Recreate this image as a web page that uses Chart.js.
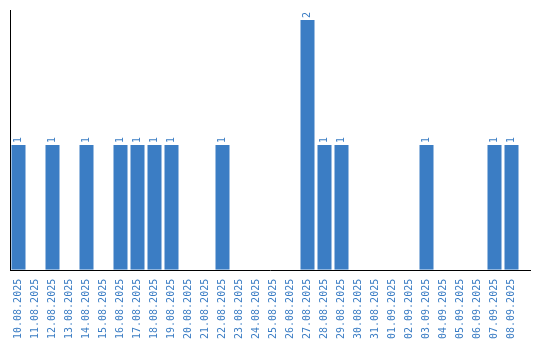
<!DOCTYPE html>
<html lang="en">
<head>
    <meta charset="UTF-8">
    <title>Daily count</title>
    <script src="https://cdn.jsdelivr.net/npm/chart.js"></script>
    <style>
        html, body { margin: 0; padding: 0; background: #fff; }
        #wrap { width: 540px; height: 340px; }
    </style>
</head>
<body>
    <div id="wrap"><canvas id="barChart"></canvas></div>

    <script>
        const dates = [
            '10.08.2025', '11.08.2025', '12.08.2025', '13.08.2025', '14.08.2025',
            '15.08.2025', '16.08.2025', '17.08.2025', '18.08.2025', '19.08.2025',
            '20.08.2025', '21.08.2025', '22.08.2025', '23.08.2025', '24.08.2025',
            '25.08.2025', '26.08.2025', '27.08.2025', '28.08.2025', '29.08.2025',
            '30.08.2025', '31.08.2025', '01.09.2025', '02.09.2025', '03.09.2025',
            '04.09.2025', '05.09.2025', '06.09.2025', '07.09.2025', '08.09.2025'
        ];
        const counts = [
            1, 0, 1, 0, 1,
            0, 1, 1, 1, 1,
            0, 0, 1, 0, 0,
            0, 0, 2, 1, 1,
            0, 0, 0, 0, 1,
            0, 0, 0, 1, 1
        ];

        const blue = '#3b7dc4';
        const monoFont = '"DejaVu Sans Mono", monospace';

        // value labels above the bars, rotated like the dates
        const valueLabels = {
            id: 'valueLabels',
            afterDatasetsDraw(chart) {
                const ctx = chart.ctx;
                const meta = chart.getDatasetMeta(0);
                ctx.save();
                ctx.fillStyle = blue;
                ctx.font = '10px ' + monoFont;
                ctx.textAlign = 'left';
                ctx.textBaseline = 'middle';
                meta.data.forEach((bar, i) => {
                    if (!counts[i]) return;
                    ctx.save();
                    ctx.translate(bar.x, bar.y - 2);
                    ctx.rotate(-Math.PI / 2);
                    ctx.fillText(String(counts[i]), 0, 0);
                    ctx.restore();
                });

                // x axis line runs a bit past the last bar
                const area = chart.chartArea;
                ctx.strokeStyle = '#000';
                ctx.lineWidth = 1;
                ctx.beginPath();
                ctx.moveTo(area.left, Math.round(area.bottom) + 0.5);
                ctx.lineTo(area.right + 11, Math.round(area.bottom) + 0.5);
                ctx.stroke();
                ctx.restore();
            }
        };

        new Chart(document.getElementById('barChart'), {
            type: 'bar',
            data: {
                labels: dates,
                datasets: [{
                    data: counts,
                    backgroundColor: blue,
                    borderWidth: 0,
                    barPercentage: 14 / 17,
                    categoryPercentage: 1
                }]
            },
            options: {
                responsive: true,
                maintainAspectRatio: false,
                animation: false,
                layout: {
                    padding: { left: 2, top: 10, right: 20, bottom: 0 }
                },
                plugins: {
                    legend: { display: false },
                    tooltip: { enabled: false }
                },
                scales: {
                    x: {
                        grid: { display: false },
                        border: { display: false },
                        ticks: {
                            color: blue,
                            font: { family: monoFont, size: 10 },
                            minRotation: 90,
                            maxRotation: 90,
                            autoSkip: false,
                            padding: 1
                        }
                    },
                    y: {
                        min: 0,
                        max: 2.08,
                        grid: { display: false },
                        border: { display: true, color: '#000', width: 1 },
                        ticks: { display: false }
                    }
                }
            },
            plugins: [valueLabels]
        });
    </script>
</body>
</html>
